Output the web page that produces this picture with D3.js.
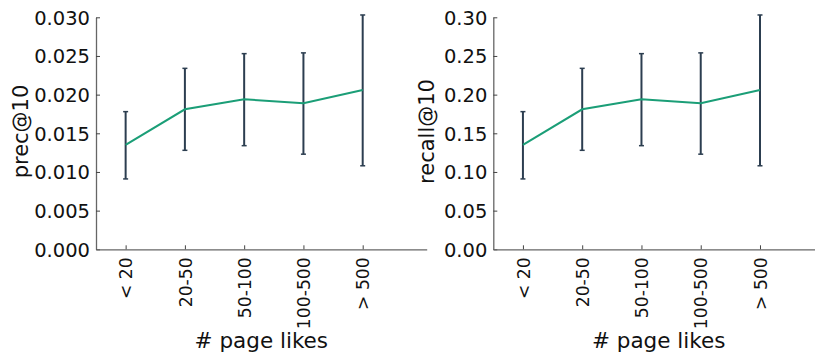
<!DOCTYPE html>
<html>
<head>
<meta charset="utf-8">
<script src="https://cdn.jsdelivr.net/npm/d3@7"></script>
<style>
  body { margin: 0; background: #fff; }
  svg, svg text { font-family: "DejaVu Sans", sans-serif; }
</style>
</head>
<body>
<svg id="chart" width="815" height="355"></svg>
<script>
// bins of page likes
let categories = ["< 20", "20-50", "50-100", "100-500", "> 500"];

// prec@10 mean and error bar ends
let precMean = [0.0135, 0.0181, 0.0194, 0.0189, 0.0206];
let precLow  = [0.0091, 0.0128, 0.0134, 0.0123, 0.0108];
let precHigh = [0.0178, 0.0234, 0.0253, 0.0254, 0.0303];
let precTicks = [0, 0.005, 0.010, 0.015, 0.020, 0.025, 0.030];

// recall@10 looks like the same curve at ten times the scale
let recallMean = [0.135, 0.181, 0.194, 0.189, 0.206];
let recallLow  = [0.091, 0.128, 0.134, 0.123, 0.108];
let recallHigh = [0.178, 0.234, 0.253, 0.254, 0.303];
let recallTicks = [0, 0.05, 0.10, 0.15, 0.20, 0.25, 0.30];

let svg = d3.select("#chart");

function drawPanel(left, label, labelGap, mean, low, high, ticks, fmt) {
  let w = 330.7, top = 17.3, bottom = 249.3;

  let x = d3.scaleLinear().domain([-0.5, 5.08]).range([left, left + w]);
  let y = d3.scaleLinear().domain([0, ticks[ticks.length - 1]]).range([bottom, top]);

  let g = svg.append("g");

  // axes, ticks pointing inwards
  let yAxis = g.append("g")
    .attr("transform", `translate(${left},0)`)
    .call(d3.axisLeft(y).tickValues(ticks).tickFormat(d3.format(fmt)).tickSizeInner(-4).tickSizeOuter(0).tickPadding(6));
  yAxis.attr("font-family", "DejaVu Sans");
  yAxis.selectAll("text").attr("font-size", 19.5).attr("fill", "#111").attr("dy", "0.36em");

  let xAxis = g.append("g")
    .attr("transform", `translate(0,${bottom})`)
    .call(d3.axisBottom(x).tickValues(d3.range(categories.length)).tickFormat(i => categories[i]).tickSizeInner(-4).tickSizeOuter(0));
  xAxis.attr("font-family", "DejaVu Sans");
  xAxis.selectAll("text")
    .attr("font-size", 17.2).attr("fill", "#111")
    .attr("text-anchor", "end")
    .attr("transform", "rotate(-90)")
    .attr("x", -8).attr("y", 0).attr("dy", "0.36em");

  g.selectAll(".domain").attr("stroke", "#666").attr("stroke-width", 1.3);
  g.selectAll(".tick line").attr("stroke", "#444");

  // error bars
  let idx = d3.range(categories.length);
  g.selectAll(".err").data(idx).join("line")
    .attr("class", "err")
    .attr("x1", i => x(i)).attr("x2", i => x(i))
    .attr("y1", i => y(low[i])).attr("y2", i => y(high[i]))
    .attr("stroke", "#2c3e50").attr("stroke-width", 2);
  for (let ends of [low, high]) {
    g.selectAll(null).data(idx).join("line")
      .attr("x1", i => x(i) - 2.5).attr("x2", i => x(i) + 2.5)
      .attr("y1", i => y(ends[i])).attr("y2", i => y(ends[i]))
      .attr("stroke", "#2c3e50").attr("stroke-width", 1.5);
  }

  // mean line
  g.append("path")
    .datum(idx)
    .attr("fill", "none")
    .attr("stroke", "#1b9e77")
    .attr("stroke-width", 2)
    .attr("d", d3.line().x(i => x(i)).y(i => y(mean[i])));

  // axis titles
  g.append("text")
    .attr("transform", `translate(${left - labelGap},131.5) rotate(-90)`)
    .attr("text-anchor", "middle")
    .attr("font-size", 21).attr("fill", "#111")
    .text(label);
  g.append("text")
    .attr("x", left + w / 2).attr("y", 348)
    .attr("text-anchor", "middle")
    .attr("font-size", 21.5).attr("fill", "#111")
    .text("# page likes");
}

drawPanel(96, "prec@10", 68, precMean, precLow, precHigh, precTicks, ".3f");
drawPanel(493.3, "recall@10", 59, recallMean, recallLow, recallHigh, recallTicks, ".2f");
</script>
</body>
</html>
